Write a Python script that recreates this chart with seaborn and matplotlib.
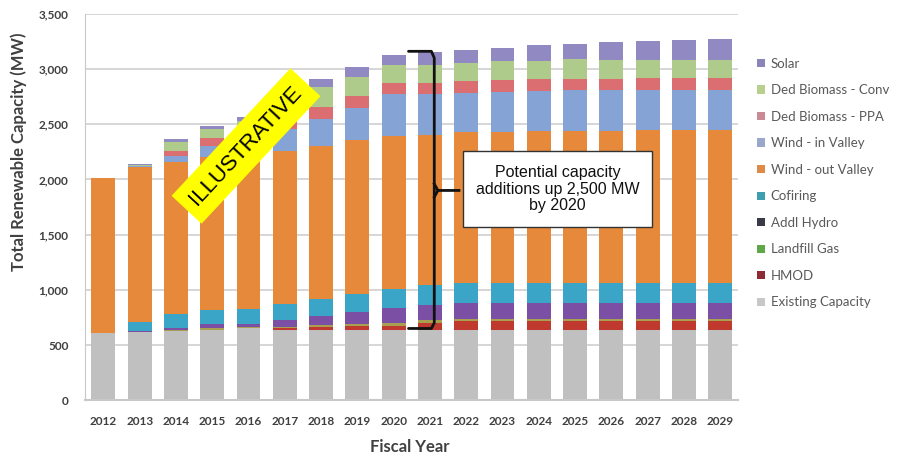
import pandas as pd
import numpy as np
import matplotlib
import matplotlib.pyplot as plt
import seaborn as sns
from matplotlib.patches import Patch, Rectangle

years = list(range(2012, 2030))

existing = [610, 620, 630, 640, 650, 640, 640, 640, 640, 640, 640, 640, 640, 640, 640, 640, 640, 640]
hmod = [0, 0, 0, 0, 0, 10, 25, 30, 35, 60, 75, 75, 75, 75, 75, 75, 75, 75]
landfill = [0, 0, 5, 10, 10, 15, 20, 20, 25, 25, 25, 25, 25, 25, 25, 25, 25, 25]
addl_hydro = [0, 10, 20, 45, 35, 60, 75, 105, 135, 135, 140, 140, 140, 140, 140, 140, 140, 140]
cofiring = [0, 80, 130, 120, 135, 150, 160, 170, 175, 180, 180, 180, 180, 180, 180, 180, 180, 180]
wind_out = [1400, 1400, 1370, 1390, 1410, 1385, 1380, 1395, 1385, 1360, 1365, 1370, 1375, 1380, 1380, 1385, 1385, 1385]
wind_in = [0, 10, 60, 100, 150, 200, 250, 285, 375, 370, 360, 365, 365, 370, 370, 365, 365, 365]
biomass_ppa = [0, 5, 45, 70, 60, 95, 105, 110, 105, 105, 105, 105, 105, 100, 100, 105, 105, 105]
biomass_conv = [0, 5, 75, 80, 80, 175, 180, 175, 165, 165, 165, 170, 170, 180, 175, 170, 170, 170]
solar = [0, 10, 30, 30, 35, 70, 75, 85, 90, 115, 120, 120, 140, 140, 155, 165, 180, 190]

# legend order, top to bottom (also stack order, top to bottom)
sources = ['Solar', 'Ded Biomass - Conv', 'Ded Biomass - PPA', 'Wind - in Valley', 'Wind - out Valley',
           'Cofiring', 'Addl Hydro', 'Landfill Gas', 'HMOD', 'Existing Capacity']
series = [solar, biomass_conv, biomass_ppa, wind_in, wind_out, cofiring, addl_hydro, landfill, hmod, existing]
colors = ['#9189C2', '#AECB8C', '#DA6E70', '#86A3D6', '#E6893B',
          '#3AA5C6', '#7B4FA3', '#A8A050', '#C0392F', '#C0C0C0']
legend_colors = ['#8A84B8', '#B9CF8E', '#C98A95', '#9AA6CC', '#E08A4A',
                 '#3E9FB0', '#3A3A46', '#5FA84A', '#8E2A35', '#C8C8C8']

rows = []
for name, vals in zip(sources, series):
    for y, v in zip(years, vals):
        rows.append({'Year': y, 'Source': name, 'MW': v})
df = pd.DataFrame(rows)

plt.rcParams['font.family'] = ['Lato', 'DejaVu Sans']

fig = plt.figure(figsize=(9.07, 4.59), dpi=100)
ax = fig.add_axes([0.094, 0.128, 0.72, 0.842])

sns.histplot(data=df, x='Year', weights='MW', hue='Source', hue_order=sources,
             palette=dict(zip(sources, colors)), multiple='stack', discrete=True,
             shrink=0.66, alpha=1, linewidth=0, legend=False, ax=ax, zorder=2)

ax.set_xlim(2011.5, 2029.5)
ax.set_ylim(0, 3500)
ax.set_xticks(years)
ax.set_xticklabels([str(y) for y in years], fontsize=8.5, fontweight='bold', color='#404040')
ax.set_yticks(np.arange(0, 3501, 500))
ax.set_yticklabels([f'{v:,}' for v in range(0, 3501, 500)], fontsize=8.5, fontweight='bold', color='#404040')
ax.tick_params(axis='x', length=0, pad=11)
ax.tick_params(axis='y', length=0, pad=12)
ax.yaxis.grid(True, color='#D0D0D0', linewidth=1.2, zorder=0)
ax.set_axisbelow(True)
for s in ['top', 'right']:
    ax.spines[s].set_visible(False)
ax.spines['left'].set_color('#C8C8C8')
ax.spines['bottom'].set_color('#C8C8C8')
ax.spines['bottom'].set_linewidth(1.5)

ax.set_ylabel('')
ax.set_xlabel('')
fig.text(19 / 907, 1 - 152 / 459, 'Total Renewable Capacity (MW)', rotation=90, ha='center', va='center',
         fontsize=12, fontweight='bold', color='#404040')
fig.text(410 / 907, 1 - 447 / 459, 'Fiscal Year', ha='center', va='center',
         fontsize=12, fontweight='bold', color='#404040')

# legend
handles = [Patch(facecolor=c, edgecolor='none') for c in legend_colors]
fig.legend(handles, sources, loc='upper left', bbox_to_anchor=(0.822, 0.9), frameon=False,
           fontsize=9.5, labelcolor='#595959', handlelength=0.6, handleheight=0.6,
           handletextpad=0.4, labelspacing=1.1)

# brace for potential additions
bx = 2021.12
ax.plot([2020.41, bx - 0.08, bx, bx, bx - 0.08, 2020.41],
        [3160, 3160, 3100, 700, 650, 650], color='#111111', lw=2,
        solid_joinstyle='round', solid_capstyle='round', zorder=5)
ax.plot([bx, bx + 0.1, 2021.8], [1960, 1900, 1900], color='#111111', lw=2,
        solid_joinstyle='round', zorder=5)
ax.plot([bx, bx + 0.1], [1840, 1900], color='#111111', lw=2, zorder=5)

ax.add_patch(Rectangle((2021.9, 1565), 5.23, 695, facecolor='white', edgecolor='#333333',
                       lw=1, zorder=6))
ax.text(2024.52, 1912, 'Potential capacity\nadditions up 2,500 MW\nby 2020', ha='center', va='center',
        fontsize=11.5, family='Liberation Sans', color='#111111', linespacing=1.15, zorder=7)

fig.text(246 / 907, 1 - 146 / 459, 'ILLUSTRATIVE', rotation=47, ha='center', va='center',
         fontsize=16, family='Liberation Sans', color='black', rotation_mode='anchor',
         bbox=dict(boxstyle='square,pad=0.45', facecolor='#FFFF00', edgecolor='none'), zorder=10)

fig.savefig('out.png', dpi=100, facecolor='white')
